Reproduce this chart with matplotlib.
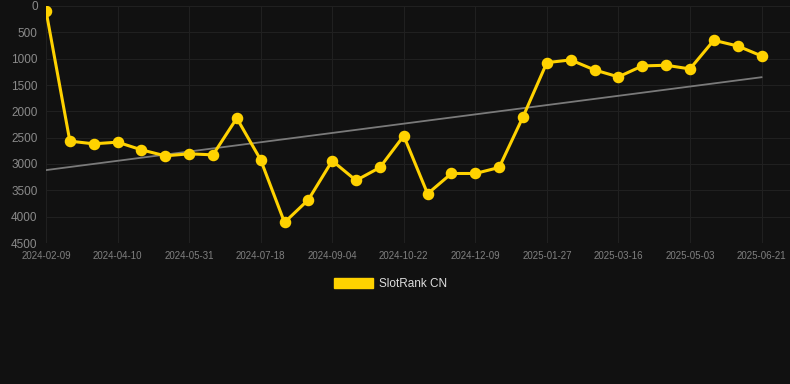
import matplotlib
matplotlib.use("Agg")
import matplotlib.pyplot as plt
from matplotlib.patches import Patch
import numpy as np

# data (rank, lower is better)
ranks = [90, 2566, 2617, 2585, 2731, 2845, 2807, 2826, 2130, 2920,
         4109, 3679, 2939, 3312, 3066, 2465, 3565, 3180, 3180, 3066,
         2105, 1075, 1024, 1214, 1346, 1138, 1125, 1195, 651, 759, 948]
tick_labels = ["2024-02-09", "2024-04-10", "2024-05-31", "2024-07-18", "2024-09-04",
               "2024-10-22", "2024-12-09", "2025-01-27", "2025-03-16", "2025-05-03",
               "2025-06-21"]
series_name = "SlotRank CN"

bg = "#111111"
gold = "#FFD200"

fig = plt.figure(figsize=(7.9, 3.84), dpi=100, facecolor=bg)
ax = fig.add_axes([46 / 790, 1 - 243 / 384, 1 - 46 / 790, 237 / 384])
ax.set_facecolor(bg)

x = np.arange(len(ranks))

# trend line (linear fit)
k, b = np.polyfit(x, ranks, 1)
ax.plot(x, k * x + b, color="#7a7a7a", lw=1.3, zorder=2)

ax.plot(x, ranks, color=gold, lw=2.2, marker="o", markersize=7.3, zorder=3)

ax.set_ylim(4500, 0)
ax.set_xlim(0, (790 - 46) / 23.85)
ax.set_yticks(np.arange(0, 4501, 500))
ax.set_xticks(x[::3])
ax.set_xticklabels(tick_labels)

ax.grid(True, color="#202020", lw=0.8)
ax.set_axisbelow(True)
for s in ax.spines.values():
    s.set_visible(False)
ax.tick_params(axis="both", length=0, colors="#8a8a8a")
ax.tick_params(axis="y", labelsize=8.5, pad=6)
ax.tick_params(axis="x", labelsize=7, pad=6, colors="#808080")
for t in ax.get_xticklabels() + ax.get_yticklabels():
    t.set_fontfamily("Liberation Sans")

fig.legend(handles=[Patch(color=gold, label=series_name)], loc="center",
           bbox_to_anchor=(0.494, 1 - 284 / 384), frameon=False,
           handlelength=3.3, handleheight=0.85, handletextpad=0.5,
           prop={"family": "Liberation Sans", "size": 8.5}, labelcolor="#dddddd")

fig.savefig("out.png", facecolor=bg)
